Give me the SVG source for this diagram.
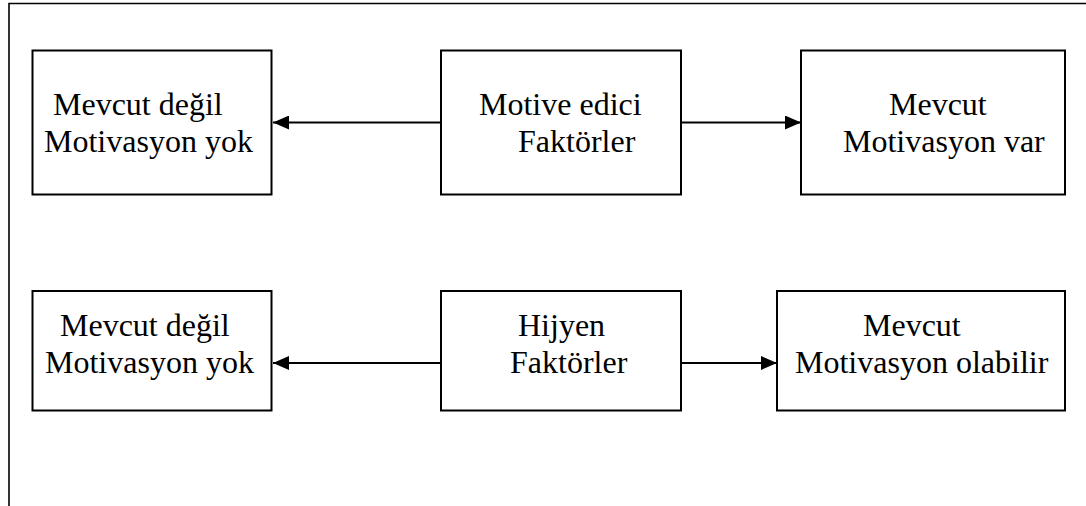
<svg xmlns="http://www.w3.org/2000/svg" width="1086" height="506" viewBox="0 0 1086 506">
<defs>
<style>
.box{fill:#fff;stroke:#000;stroke-width:2}
.lbl{font-family:'Liberation Serif','Times New Roman',Times,serif;font-size:32px;fill:#000}
.conn{stroke:#000;stroke-width:2;fill:none}
.frame{stroke:#000;stroke-width:1.6;fill:none}
</style>
<marker id="ah" viewBox="0 0 16 14" refX="16" refY="7" markerWidth="16" markerHeight="14" markerUnits="userSpaceOnUse" orient="auto">
<path d="M0,0 L16,7 L0,14 Z" fill="#000"/>
</marker>
</defs>
<rect width="1086" height="506" fill="#fff"/>
<path class="frame" d="M9,506 L9,3.5 L1086,3.5"/>
<g id="connectors">
<line class="conn" x1="441" y1="122.5" x2="273" y2="122.5" marker-end="url(#ah)"/>
<line class="conn" x1="681" y1="122.5" x2="801" y2="122.5" marker-end="url(#ah)"/>
<line class="conn" x1="441" y1="363" x2="273" y2="363" marker-end="url(#ah)"/>
<line class="conn" x1="681" y1="363" x2="777" y2="363" marker-end="url(#ah)"/>
</g>
<g font-family="Liberation Serif, serif" font-size="32">
<g id="n1">
<rect class="box" x="32.5" y="50.5" width="239" height="144"/>
<text class="lbl" font-family="Liberation Serif, serif" x="53" y="115">Mevcut değil</text>
<text class="lbl" font-family="Liberation Serif, serif" x="44" y="152">Motivasyon yok</text>
</g>
<g id="n2">
<rect class="box" x="441" y="50.5" width="240" height="144"/>
<text class="lbl" font-family="Liberation Serif, serif" x="479" y="115">Motive edici</text>
<text class="lbl" font-family="Liberation Serif, serif" x="518" y="152">Faktörler</text>
</g>
<g id="n3">
<rect class="box" x="801" y="50.5" width="264" height="144"/>
<text class="lbl" font-family="Liberation Serif, serif" x="889" y="115">Mevcut</text>
<text class="lbl" font-family="Liberation Serif, serif" x="843" y="152">Motivasyon var</text>
</g>
<g id="n4">
<rect class="box" x="32.5" y="291" width="239" height="119.5"/>
<text class="lbl" font-family="Liberation Serif, serif" x="60" y="336">Mevcut değil</text>
<text class="lbl" font-family="Liberation Serif, serif" x="45" y="372.5">Motivasyon yok</text>
</g>
<g id="n5">
<rect class="box" x="441" y="291" width="240" height="119.5"/>
<text class="lbl" font-family="Liberation Serif, serif" x="518" y="336">Hijyen</text>
<text class="lbl" font-family="Liberation Serif, serif" x="510" y="372.5">Faktörler</text>
</g>
<g id="n6">
<rect class="box" x="777" y="291" width="288" height="119.5"/>
<text class="lbl" font-family="Liberation Serif, serif" x="863" y="336">Mevcut</text>
<text class="lbl" font-family="Liberation Serif, serif" x="795" y="372.5">Motivasyon olabilir</text>
</g>
</g>
</svg>
